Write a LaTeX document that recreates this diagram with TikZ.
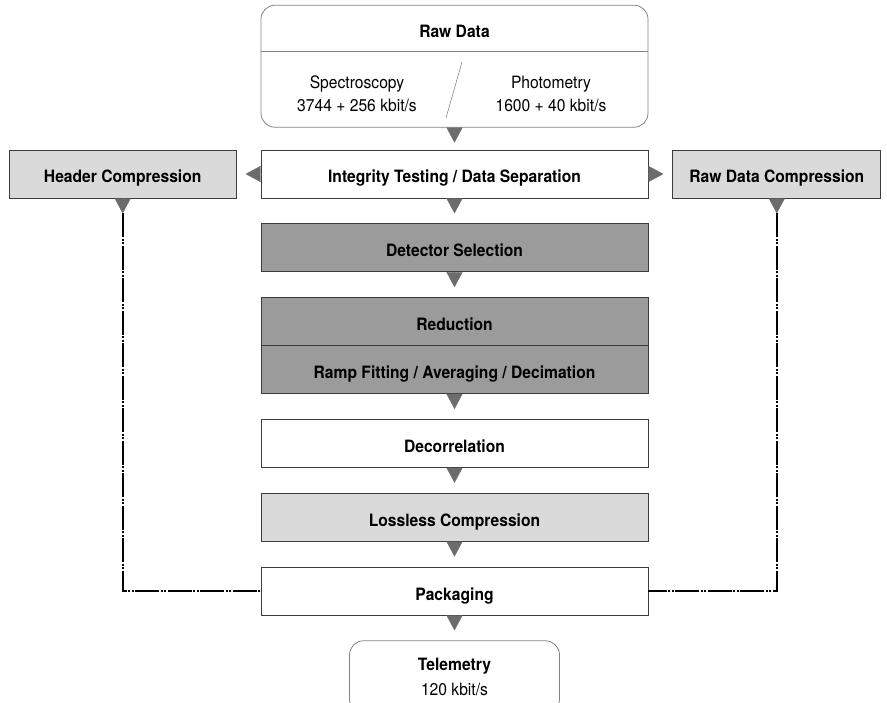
\documentclass[tikz,border=0pt]{standalone}
\usepackage{fontspec}
\setmainfont[FakeStretch=0.92]{TeX Gyre Heros}
\usetikzlibrary{arrows.meta,positioning,calc}
\definecolor{edge}{RGB}{60,60,60}
\definecolor{softedge}{RGB}{130,130,130}
\definecolor{lite}{RGB}{218,218,218}
\definecolor{dark}{RGB}{155,155,155}
\definecolor{tri}{RGB}{108,108,108}

\begin{document}
\begin{tikzpicture}[x=1pt,y=-1pt,every node/.style={font=\bfseries\fontsize{17}{20}\selectfont},
  txt/.style={text height=18pt,text depth=0pt},
  frame/.style={draw=edge,line width=0.8pt,minimum width=387pt,minimum height=48pt,inner sep=0pt},
  box/.style={frame,txt},
  lite/.style={box,fill=lite},dark/.style={box,fill=dark},
  plain/.style={font=\mdseries\fontsize{17}{23}\selectfont,align=center},
  flow/.style={draw=tri,line width=0.3pt,-{Triangle[length=15pt,width=16pt]},shorten >=#1},flow/.default=10pt,
  link/.style={line width=1.6pt,dash pattern=on 24pt off 1.5pt on 2pt off 1.5pt on 2pt off 1.5pt},
  node distance=25pt]
\useasboundingbox (0,0) rectangle (887,703);
\clip (0,0) rectangle (887,703);
% main column
\node[box] (integ) at (454.5,174) {Integrity Testing / Data Separation};
\node[dark,below=of integ] (det) {Detector Selection};
\node[dark,below=of det,minimum height=96pt] (red) {};
\node[txt] at ([yshift=24pt]red.center) (redtop) {Reduction};
\node[txt] at ([yshift=-24pt]red.center) (redbot) {Ramp Fitting / Averaging / Decimation};
\draw[edge,line width=0.8pt] (red.west) -- (red.east);
\node[box,below=of red] (dec) {Decorrelation};
\node[lite,below=of dec] (loss) {Lossless Compression};
\node[box,below=of loss] (pack) {Packaging};
\node[frame,draw=softedge,rounded corners=14pt,minimum width=210pt,minimum height=72pt,below=of pack,
  align=center,font=\bfseries\fontsize{17}{25}\selectfont] (tel) {Telemetry\\{\mdseries 120 kbit/s}};
% raw data
\node[frame,draw=softedge,rounded corners=14pt,minimum height=122pt,above=22pt of integ] (raw) {};
\draw[softedge,line width=0.8pt] ([yshift=-47pt]raw.north west) -- ([yshift=-47pt]raw.north east);
\node[txt] at ([yshift=-24pt]raw.north) (rawtitle) {Raw Data};
\node[plain] (spec) at (357,94) {Spectroscopy\\3744 + 256 kbit/s};
\node[plain] (phot) at (551,94) {Photometry\\1600 + 40 kbit/s};
\draw[softedge,line width=0.6pt] (462,62) -- (446,118);
% side boxes
\node[lite,minimum width=227pt,left=24pt of integ] (hc) {Header Compression};
\node[lite,minimum width=208pt,right=24pt of integ] (rdc) {Raw Data Compression};
\coordinate[below=15pt of hc.south] (hcend);
\coordinate[below=15pt of rdc.south] (rdcend);
% connectors
\draw[flow=7pt] (raw.south) -- (integ.north);
\draw[flow] (integ.south) -- (det.north);
\draw[flow] (det.south) -- (red.north);
\draw[flow] (red.south) -- (dec.north);
\draw[flow] (dec.south) -- (loss.north);
\draw[flow] (loss.south) -- (pack.north);
\draw[flow] (pack.south) -- (tel.north);
\draw[flow=9pt] (integ.west) -- (hc.east);
\draw[flow=9pt] (integ.east) -- (rdc.west);
\draw[flow=0pt] (hc.south) -- (hcend);
\draw[flow=0pt] (rdc.south) -- (rdcend);
\draw[link] (hcend) |- (pack.west);
\draw[link] (rdcend) |- (pack.east);
\end{tikzpicture}
\end{document}
